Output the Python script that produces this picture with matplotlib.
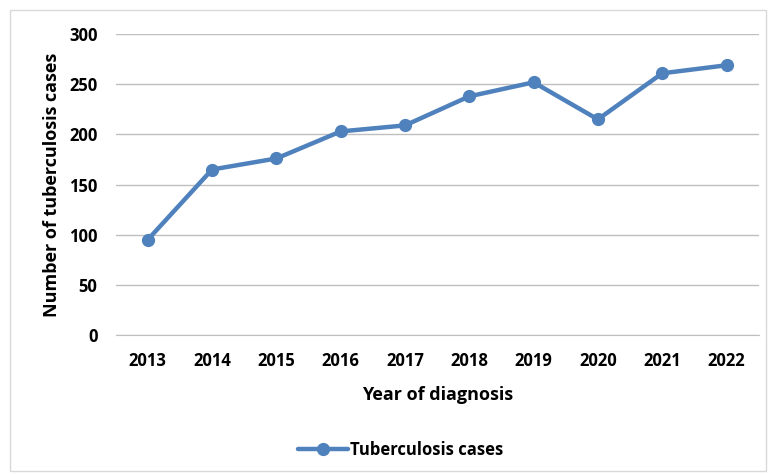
import matplotlib
matplotlib.use("Agg")
import matplotlib.pyplot as plt
from matplotlib.patches import Rectangle

years = ["2013", "2014", "2015", "2016", "2017", "2018", "2019", "2020", "2021", "2022"]
cases = [95, 165, 176, 203, 209, 238, 252, 215, 261, 269]
yticks = [0, 50, 100, 150, 200, 250, 300]

plt.rcParams["font.family"] = ["Open Sans", "DejaVu Sans"]
plt.rcParams["font.weight"] = "bold"

fig = plt.figure(figsize=(7.71, 4.75), dpi=100)
ax = fig.add_axes([0.150, 0.295, 0.834, 0.633])

blue = "#4F81BD"
x = list(range(len(years)))
ax.plot(x, cases, color=blue, lw=3.2, marker="o", markersize=8.5,
        markerfacecolor=blue, markeredgecolor=blue, label="Tuberculosis cases",
        solid_capstyle="round", zorder=3)

ax.set_xlim(-0.5, len(years) - 0.5)
ax.set_ylim(0, 300)
ax.set_yticks(yticks)
ax.set_xticks(x)
ax.set_xticklabels(years)
ax.grid(axis="y", color="#BFBFBF", lw=1)
ax.set_axisbelow(True)
for s in ["top", "right", "left"]:
    ax.spines[s].set_visible(False)
ax.spines["bottom"].set_color("#BFBFBF")
ax.tick_params(length=0, labelsize=12)
ax.tick_params(axis="x", pad=12)
ax.tick_params(axis="y", pad=13)
for lab in ax.get_xticklabels() + ax.get_yticklabels():
    lab.set_fontweight("bold")

ax.set_xlabel("Year of diagnosis", fontsize=13, fontweight="bold", labelpad=12)
ax.set_ylabel("Number of tuberculosis cases", fontsize=13, fontweight="bold", labelpad=6)

fig.legend(loc="center", bbox_to_anchor=(0.52, 0.052), frameon=False,
           prop={"size": 12, "weight": "bold"}, handlelength=3.0, handletextpad=0.1)

fig.patches.append(Rectangle((0.013, 0.008), 0.981, 0.972, transform=fig.transFigure,
                             fill=False, edgecolor="#D9D9D9", lw=1))

fig.savefig("out.png", dpi=100)
